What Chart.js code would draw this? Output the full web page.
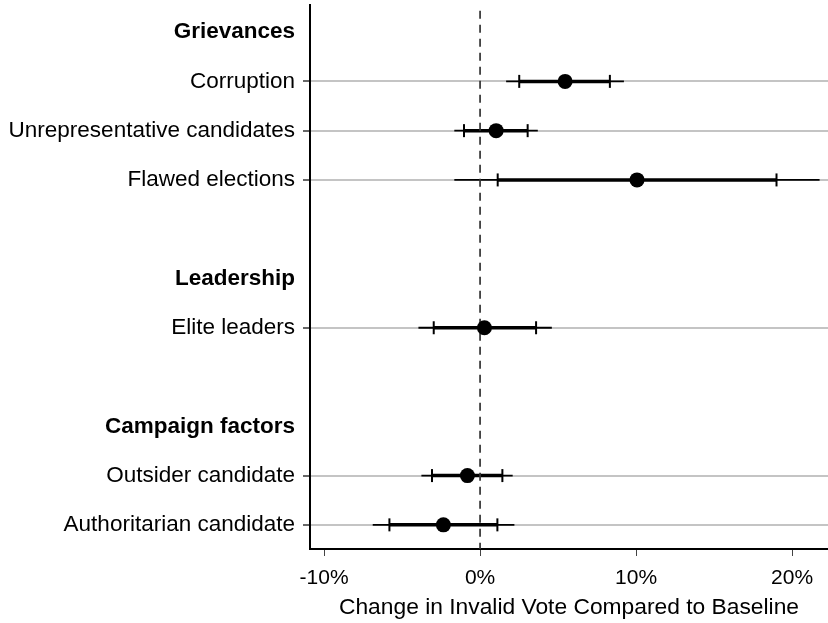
<!DOCTYPE html>
<html>
<head>
<meta charset="utf-8">
<script src="https://cdn.jsdelivr.net/npm/chart.js@4.4.1/dist/chart.umd.min.js"></script>
<style>
  html, body { margin: 0; padding: 0; background: #fff; }
  #wrap { width: 828px; height: 623px; }
</style>
</head>
<body>
<div id="wrap"><canvas id="chart" width="828" height="623"></canvas></div>
<script>
// rows top to bottom, blanks are spacer rows
const rowLabels = [
  "Grievances", "Corruption", "Unrepresentative candidates", "Flawed elections", "",
  "Leadership", "Elite leaders", "",
  "Campaign factors", "Outsider candidate", "Authoritarian candidate"
];
const headers = ["Grievances", "Leadership", "Campaign factors"];

const items = ["Corruption", "Unrepresentative candidates", "Flawed elections",
  "Elite leaders", "Outsider candidate", "Authoritarian candidate"];
const estimate = [5.45, 1.03, 10.06, 0.28, -0.81, -2.35];
const loInner  = [2.51, -1.03, 1.13, -2.97, -3.08, -5.81];
const hiInner  = [8.32, 3.05, 19.0, 3.59, 1.43, 1.11];
const loOuter  = [1.67, -1.65, -1.65, -3.95, -3.76, -6.88];
const hiOuter  = [9.22, 3.70, 21.76, 4.60, 2.09, 2.20];

const xTicks = [-10, 0, 10, 20];

const rowOf = name => rowLabels.indexOf(name);

function segments(lo, hi) {
  const out = [];
  items.forEach((name, i) => {
    out.push({ x: lo[i], y: rowOf(name) });
    out.push({ x: hi[i], y: rowOf(name) });
    out.push({ x: null, y: null });
  });
  return out;
}

const caps = [];
items.forEach((name, i) => {
  caps.push({ x: loInner[i], y: rowOf(name) });
  caps.push({ x: hiInner[i], y: rowOf(name) });
});

const isItem = v => items.includes(rowLabels[v]);
const tickVal = ctx => (ctx && ctx.tick) ? ctx.tick.value : -1;
const fontFamily = "'Liberation Sans', Arial, Helvetica, sans-serif";

new Chart(document.getElementById("chart"), {
  type: "line",
  data: {
    datasets: [
      {
        data: items.map((name, i) => ({ x: estimate[i], y: rowOf(name) })),
        showLine: false, pointRadius: 7.5, pointBackgroundColor: "#000",
        pointBorderColor: "#000", borderWidth: 0, order: 0
      },
      {
        data: [{ x: 0, y: -1 }, { x: 0, y: 11 }],
        borderColor: "#333", borderWidth: 1.7, borderDash: [8, 6],
        pointRadius: 0, order: 1
      },
      {
        data: caps, showLine: false, pointStyle: "line", rotation: 90,
        pointRadius: 6.5, pointBorderWidth: 2, pointBorderColor: "#000", order: 2
      },
      {
        data: segments(loInner, hiInner), borderColor: "#000", borderWidth: 3.5,
        pointRadius: 0, spanGaps: false, order: 3
      },
      {
        data: segments(loOuter, hiOuter), borderColor: "#000", borderWidth: 1.8,
        pointRadius: 0, spanGaps: false, order: 4
      }
    ]
  },
  options: {
    responsive: false,
    animation: false,
    layout: { autoPadding: false, padding: { top: 5, right: 0, left: 0, bottom: 0 } },
    plugins: { legend: { display: false }, tooltip: { enabled: false } },
    scales: {
      x: {
        type: "linear", min: -10.9, max: 22.3,
        afterBuildTicks: s => { s.ticks = xTicks.map(v => ({ value: v })); },
        afterFit: s => { s.height = 74; s.paddingLeft = 0; s.paddingRight = 0; },
        border: { display: true, color: "#000", width: 2 },
        grid: { drawOnChartArea: false, drawTicks: true, tickLength: 7, color: "#444", lineWidth: 1 },
        ticks: {
          color: "#000", padding: 10,
          font: { family: fontFamily, size: 21 },
          callback: v => v + "%"
        },
        title: {
          display: true, text: "Change in Invalid Vote Compared to Baseline",
          color: "#000", font: { family: fontFamily, size: 22.8 }, padding: { top: 0, bottom: 2 }
        }
      },
      y: {
        type: "linear", reverse: true, min: -0.55, max: 10.49,
        afterBuildTicks: s => { s.ticks = rowLabels.map((_, i) => ({ value: i })); },
        afterFit: s => { s.width = 310; s.paddingTop = 0; s.paddingBottom = 0; },
        border: { display: true, color: "#000", width: 2 },
        grid: {
          drawOnChartArea: true, tickLength: 7, lineWidth: 2,
          color: ctx => isItem(tickVal(ctx)) ? "#c4c4c4" : "rgba(0,0,0,0)",
          tickColor: ctx => isItem(tickVal(ctx)) ? "#000" : "rgba(0,0,0,0)",
          tickWidth: 1.2
        },
        ticks: {
          color: "#000", padding: 8, autoSkip: false,
          font: ctx => ({
            family: fontFamily, size: 22.5,
            weight: headers.includes(rowLabels[tickVal(ctx)]) ? "bold" : "normal"
          }),
          callback: v => rowLabels[v]
        }
      }
    }
  }
});
</script>
</body>
</html>
